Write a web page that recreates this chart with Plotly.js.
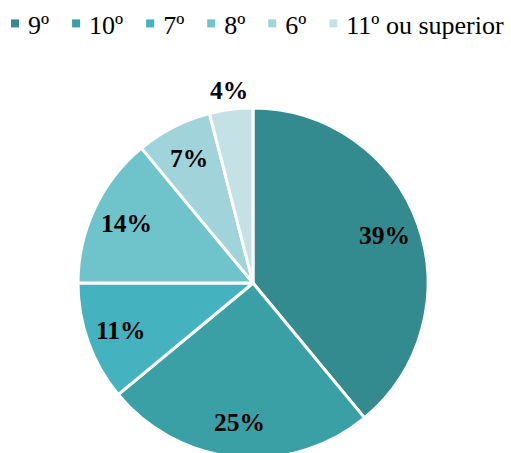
<!DOCTYPE html>
<html><head><meta charset="utf-8">
<script src="https://cdn.plot.ly/plotly-3.0.1.min.js"></script>
<style>html,body{margin:0;padding:0;overflow:hidden;background:#fff}#wrap{width:511px;height:453px;overflow:hidden}</style>
</head><body><div id="wrap"><div id="chart" style="width:511px;height:465px"></div></div>
<script>
const categories = ['9º', '10º', '7º', '8º', '6º', '11º ou superior'];
const values = [39, 25, 11, 14, 7, 4];
const colors = ['#338a8f', '#3aa0a5', '#45b3bf', '#6fc4cc', '#a0d3da', '#c4e2e6'];
const labelOutside = [false, false, false, false, false, true];

// pick an installed Times-like serif font
const ctx = document.createElement('canvas').getContext('2d');
function measure(font, txt) { ctx.font = font; return ctx.measureText(txt).width; }
const probe = '11º ou superior 39% Wmil';
function available(f) {
  return measure('40px "' + f + '", monospace', probe) !== measure('40px monospace', probe) ||
         measure('40px "' + f + '", sans-serif', probe) !== measure('40px sans-serif', probe);
}
const candidates = ['Liberation Serif', 'Times New Roman', 'Tinos', 'Nimbus Roman', 'FreeSerif', 'Times', 'DejaVu Serif'];
const FAMILY = candidates.find(available) || 'serif';
const FONT = '"' + FAMILY + '", serif';

// size fonts so text widths match the reference
const legendSize = Math.min(26, 26 * 160 / measure('26px ' + FONT, '11º ou superior'));
const labelSize = Math.min(26, 26 * 51 / measure('bold 26px ' + FONT, '39%'));

const W = 511, H = 465, M = {l: 0, r: 5, t: 108, b: 7};
const plotW = W - M.l - M.r, plotH = H - M.t - M.b;
const R = Math.min(plotW, plotH) / 2;

// legend layout (px)
const LEG_TEXT_START = 28, LEG_GAP = 40, LEG_SYMBOL_OFFSET = 13, LEG_SYMBOL_SCALE = 0.667;

// label annotations placed at slice mid-angles computed from the data
const total = values.reduce((a, b) => a + b, 0);
let cum = 0;
const annotations = values.map((v, i) => {
  const mid = (cum + v / 2) / total * 2 * Math.PI;
  cum += v;
  const r = labelOutside[i] ? 1.11 * R : 0.8 * R;
  const dx = Math.sin(mid) * r, dy = Math.cos(mid) * r;
  return {
    xref: 'paper', yref: 'paper',
    x: 0.5 + dx / plotW, y: 0.5 + dy / plotH,
    xanchor: 'center', yanchor: 'middle',
    text: '<b>' + v + '%</b>', showarrow: false,
    font: {family: FONT, size: labelSize, color: '#000000'}
  };
});

Plotly.newPlot('chart', [{
  type: 'pie',
  labels: categories,
  values: values,
  sort: false,
  direction: 'clockwise',
  rotation: 0,
  marker: {colors: colors, line: {color: '#ffffff', width: 3}},
  textinfo: 'none',
  hoverinfo: 'none'
}], {
  width: W, height: H,
  margin: M,
  paper_bgcolor: '#ffffff',
  showlegend: true,
  annotations: annotations,
  legend: {
    orientation: 'h', xref: 'container', yref: 'container',
    x: 0, y: 1, xanchor: 'left', yanchor: 'top',
    font: {family: FONT, size: legendSize, color: '#000000'},
    itemwidth: 30, indentation: -15, tracegroupgap: 0
  },
  font: {family: FONT}
}, {displayModeBar: false, staticPlot: true}).then(() => {
  document.querySelectorAll('#chart .legend [clip-path]').forEach(el => el.removeAttribute('clip-path'));
  const items = Array.from(document.querySelectorAll('#chart .legend .traces'));
  let x = LEG_TEXT_START;
  items.forEach(item => {
    const text = item.querySelector('text.legendtext');
    const tr = text.getBoundingClientRect();
    const delta = x - tr.left;
    const m = /translate\(\s*([-\d.e]+)[ ,]+([-\d.e]+)\s*\)/.exec(item.getAttribute('transform') || 'translate(0,0)');
    item.setAttribute('transform', 'translate(' + (parseFloat(m[1]) + delta) + ',' + parseFloat(m[2]) + ')');
    const path = item.querySelector('.legendpoints path');
    if (path) {
      path.style.strokeWidth = '0px';
      const pr = path.getBoundingClientRect();
      const cx = pr.left + pr.width / 2;
      const dx = (x - LEG_SYMBOL_OFFSET) - cx;
      const prev = path.getAttribute('transform') || '';
      path.setAttribute('transform', prev + ' translate(' + dx + ',0) scale(' + LEG_SYMBOL_SCALE + ')');
    }
    x += tr.width + LEG_GAP;
  });
});
</script></body></html>
